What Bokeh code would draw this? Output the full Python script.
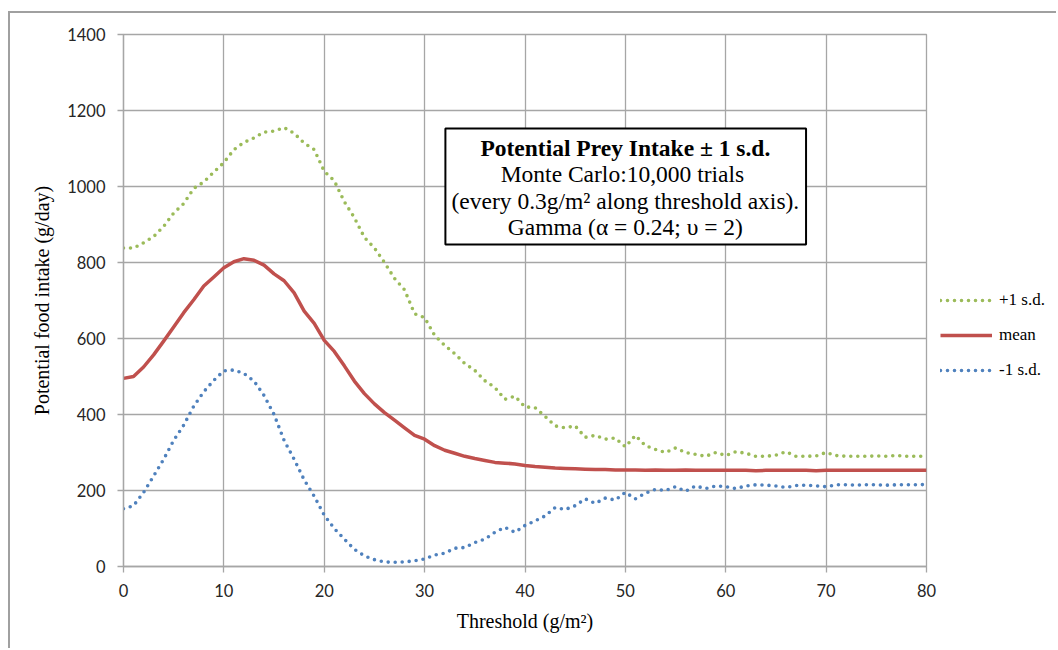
from bokeh.plotting import figure
from bokeh.layouts import row
from bokeh.models import Range1d, BoxAnnotation, Label, Legend, LegendItem, FixedTicker
from bokeh.embed import file_html
from bokeh.resources import INLINE

# ---- data ----
threshold = list(range(0, 81))

plus_sd = [838, 838, 852, 868, 895, 930, 955, 995, 1012, 1038,
           1063, 1097, 1116, 1128, 1143, 1146, 1155, 1140, 1114, 1097,
           1040, 1015, 960, 918, 866, 838, 800, 758, 728, 665,
           655, 608, 582, 560, 534, 516, 489, 471, 440, 448,
           420, 418, 395, 370, 365, 370, 340, 345, 335, 338,
           315, 345, 318, 308, 300, 312, 300, 295, 290, 300,
           292, 302, 298, 290, 290, 293, 302, 290, 290, 291,
           300, 292, 290, 290, 290, 291, 290, 292, 290, 290, 290]

mean_vals = [495, 500, 525, 557, 593, 630, 668, 702, 738, 762,
             786, 802, 810, 806, 793, 770, 752, 720, 672, 640,
             595, 566, 528, 488, 455, 428, 405, 385, 365, 345,
             335, 318, 306, 298, 290, 284, 279, 274, 272, 270,
             266, 263, 261, 259, 258, 257, 256, 255, 255, 254,
             254, 254, 253, 254, 253, 253, 254, 253, 253, 253,
             253, 253, 253, 252, 253, 253, 253, 253, 253, 252,
             253, 253, 253, 253, 253, 253, 253, 253, 253, 253, 253]

minus_sd = [152, 160, 195, 238, 282, 332, 372, 422, 460, 490,
            515, 517, 508, 488, 450, 400, 332, 282, 228, 185,
            135, 100, 72, 45, 28, 18, 12, 11, 12, 15,
            20, 30, 35, 48, 50, 63, 72, 90, 103, 90,
            108, 120, 133, 155, 150, 160, 178, 166, 180, 175,
            195, 178, 193, 203, 200, 210, 198, 212, 205, 212,
            210, 205, 212, 215, 214, 212, 208, 213, 214, 212,
            210, 215, 215, 214, 215, 215, 214, 215, 215, 215, 216]

x_ticks = [0, 10, 20, 30, 40, 50, 60, 70, 80]
y_ticks = [0, 200, 400, 600, 800, 1000, 1200, 1400]

series_labels = ["+1 s.d.", "mean", "-1 s.d."]
title_lines = ["Potential Prey Intake \u00b1 1 s.d.",
               "Monte Carlo:10,000  trials",
               "(every 0.3g/m\u00b2 along threshold axis).",
               "Gamma (\u03b1 = 0.24; \u03c5 = 2)"]

GREEN = "#9BBB59"
RED = "#C0504D"
BLUE = "#4F81BD"
GRID = "#a6a6a6"

styles = [dict(line_color=GREEN, line_width=3.6, line_dash="0 7", line_cap="round"),
          dict(line_color=RED, line_width=3.5, line_join="round"),
          dict(line_color=BLUE, line_width=3.6, line_dash="0 7", line_cap="round")]
series = [plus_sd, mean_vals, minus_sd]

p = figure(width=930, height=635, output_backend="svg", toolbar_location=None,
           x_range=Range1d(0, 80), y_range=Range1d(0, 1400),
           min_border_left=113, min_border_right=14,
           min_border_top=21, min_border_bottom=82)
p.background_fill_color = "white"
p.border_fill_color = "white"
p.outline_line_color = GRID
p.outline_line_width = 1.3

p.xaxis.ticker = FixedTicker(ticks=x_ticks)
p.yaxis.ticker = FixedTicker(ticks=y_ticks)
for ax in (p.xaxis, p.yaxis):
    ax.axis_line_color = GRID
    ax.axis_line_width = 1.3
    ax.major_tick_line_color = GRID
    ax.major_tick_line_width = 1.3
    ax.major_tick_out = 6
    ax.major_tick_in = 0
    ax.minor_tick_line_color = None
    ax.major_label_text_font = "Lato"
    ax.major_label_text_font_size = "16.5px"
    ax.major_label_text_color = "#262626"
    ax.axis_label_text_font = "Liberation Serif"
    ax.axis_label_text_font_size = "20px"
    ax.axis_label_text_font_style = "normal"
    ax.axis_label_text_color = "#000000"

p.yaxis.major_label_standoff = 12
p.xaxis.major_label_standoff = 11
p.xaxis.axis_label = "Threshold (g/m\u00b2)"
p.yaxis.axis_label = "Potential food intake (g/day)"
p.xaxis.axis_label_standoff = 10
p.yaxis.axis_label_standoff = 11

p.xgrid.grid_line_color = GRID
p.ygrid.grid_line_color = GRID
p.xgrid.grid_line_width = 1.3
p.ygrid.grid_line_width = 1.3

for vals, s in zip(series, styles):
    p.line(threshold, vals, **s)

# title box
box = BoxAnnotation(left=32.07, right=68.0, bottom=847.4, top=1152.6,
                    fill_color="white", fill_alpha=1.0,
                    line_color="black", line_alpha=1.0, line_width=2,
                    level="overlay")
p.add_layout(box)

label_ys = [1102.6, 1031.6, 963.0, 894.7]
for i, (txt, yy) in enumerate(zip(title_lines, label_ys)):
    p.add_layout(Label(x=50.0, y=yy, text=txt, text_align="center",
                       text_baseline="middle", text_font="Liberation Serif",
                       text_font_size="23.5px",
                       text_font_style="bold" if i == 0 else "normal",
                       text_color="black", level="overlay"))

# legend panel (separate small figure to the right of the plot);
# the series are drawn there outside its visible range, only the legend shows
p2 = figure(width=116, height=635, output_backend="svg", toolbar_location=None,
            x_range=Range1d(-1000, -999), y_range=Range1d(-1000, -999),
            x_axis_type=None, y_axis_type=None,
            min_border_left=0, min_border_right=0,
            min_border_top=0, min_border_bottom=0)
p2.outline_line_color = None
p2.background_fill_color = "white"
p2.border_fill_color = "white"
p2.xgrid.visible = False
p2.ygrid.visible = False
legend_renderers = [p2.line(threshold, vals, **s) for vals, s in zip(series, styles)]
legend = Legend(items=[LegendItem(label=lab, renderers=[r])
                       for lab, r in zip(series_labels, legend_renderers)],
                location=(0, 186), orientation="vertical",
                border_line_color=None, background_fill_alpha=0,
                label_text_font="Liberation Serif", label_text_font_size="17px",
                label_text_color="#000000",
                glyph_width=52, glyph_height=20, label_height=20,
                label_standoff=7, spacing=15, padding=0, margin=0)
p2.add_layout(legend, "center")

layout = row(p, p2, spacing=0)
layout.margin = (11, 0, 0, 8)
layout.styles = {"border-left": "2px solid #a0a0a0", "border-top": "2px solid #a0a0a0"}

open("out.html", "w").write(file_html(layout, INLINE))
